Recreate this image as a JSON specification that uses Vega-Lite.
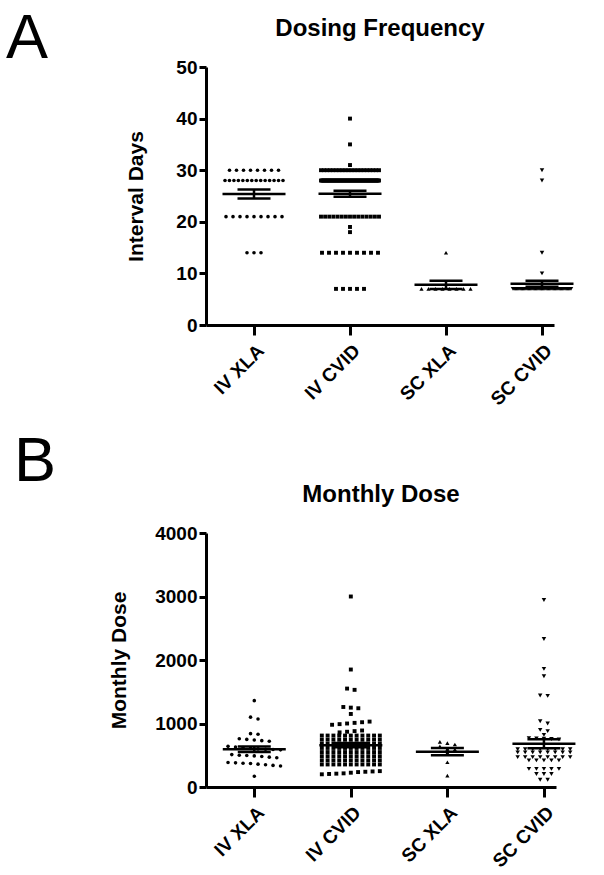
{
  "$schema": "https://vega.github.io/schema/vega-lite/v6.json",
  "background": "white",
  "padding": {"left": 6, "top": 7, "right": 5, "bottom": 5},
  "spacing": 21,
  "datasets": {
    "freq": [
      {"g":"IV XLA","v":30},{"g":"IV XLA","v":30},{"g":"IV XLA","v":30},{"g":"IV XLA","v":30},{"g":"IV XLA","v":30},{"g":"IV XLA","v":30},{"g":"IV XLA","v":30},{"g":"IV XLA","v":30},
      {"g":"IV XLA","v":28},{"g":"IV XLA","v":28},{"g":"IV XLA","v":28},{"g":"IV XLA","v":28},{"g":"IV XLA","v":28},{"g":"IV XLA","v":28},{"g":"IV XLA","v":28},{"g":"IV XLA","v":28},{"g":"IV XLA","v":28},{"g":"IV XLA","v":28},{"g":"IV XLA","v":28},{"g":"IV XLA","v":28},{"g":"IV XLA","v":28},{"g":"IV XLA","v":28},
      {"g":"IV XLA","v":21},{"g":"IV XLA","v":21},{"g":"IV XLA","v":21},{"g":"IV XLA","v":21},{"g":"IV XLA","v":21},{"g":"IV XLA","v":21},{"g":"IV XLA","v":21},{"g":"IV XLA","v":21},{"g":"IV XLA","v":21},
      {"g":"IV XLA","v":14},{"g":"IV XLA","v":14},{"g":"IV XLA","v":14},
      {"g":"IV CVID","v":40},{"g":"IV CVID","v":35},{"g":"IV CVID","v":31},
      {"g":"IV CVID","v":30},{"g":"IV CVID","v":30},{"g":"IV CVID","v":30},{"g":"IV CVID","v":30},{"g":"IV CVID","v":30},{"g":"IV CVID","v":30},{"g":"IV CVID","v":30},{"g":"IV CVID","v":30},{"g":"IV CVID","v":30},{"g":"IV CVID","v":30},
      {"g":"IV CVID","v":30},{"g":"IV CVID","v":30},{"g":"IV CVID","v":30},{"g":"IV CVID","v":30},{"g":"IV CVID","v":30},{"g":"IV CVID","v":30},{"g":"IV CVID","v":30},{"g":"IV CVID","v":30},{"g":"IV CVID","v":30},{"g":"IV CVID","v":30},
      {"g":"IV CVID","v":28},{"g":"IV CVID","v":28},{"g":"IV CVID","v":28},{"g":"IV CVID","v":28},{"g":"IV CVID","v":28},{"g":"IV CVID","v":28},{"g":"IV CVID","v":28},{"g":"IV CVID","v":28},{"g":"IV CVID","v":28},{"g":"IV CVID","v":28},
      {"g":"IV CVID","v":28},{"g":"IV CVID","v":28},{"g":"IV CVID","v":28},{"g":"IV CVID","v":28},{"g":"IV CVID","v":28},{"g":"IV CVID","v":28},{"g":"IV CVID","v":28},{"g":"IV CVID","v":28},{"g":"IV CVID","v":28},{"g":"IV CVID","v":28},
      {"g":"IV CVID","v":28},{"g":"IV CVID","v":28},{"g":"IV CVID","v":28},{"g":"IV CVID","v":28},{"g":"IV CVID","v":28},{"g":"IV CVID","v":28},{"g":"IV CVID","v":28},{"g":"IV CVID","v":28},{"g":"IV CVID","v":28},{"g":"IV CVID","v":28},
      {"g":"IV CVID","v":28},{"g":"IV CVID","v":28},{"g":"IV CVID","v":28},{"g":"IV CVID","v":28},{"g":"IV CVID","v":28},{"g":"IV CVID","v":28},{"g":"IV CVID","v":28},{"g":"IV CVID","v":28},{"g":"IV CVID","v":28},{"g":"IV CVID","v":28},
      {"g":"IV CVID","v":28},{"g":"IV CVID","v":28},{"g":"IV CVID","v":28},{"g":"IV CVID","v":28},{"g":"IV CVID","v":28},{"g":"IV CVID","v":28},{"g":"IV CVID","v":28},{"g":"IV CVID","v":28},{"g":"IV CVID","v":28},{"g":"IV CVID","v":28},
      {"g":"IV CVID","v":28},{"g":"IV CVID","v":28},{"g":"IV CVID","v":28},{"g":"IV CVID","v":28},{"g":"IV CVID","v":28},{"g":"IV CVID","v":28},{"g":"IV CVID","v":28},{"g":"IV CVID","v":28},{"g":"IV CVID","v":28},{"g":"IV CVID","v":28},
      {"g":"IV CVID","v":21},{"g":"IV CVID","v":21},{"g":"IV CVID","v":21},{"g":"IV CVID","v":21},{"g":"IV CVID","v":21},{"g":"IV CVID","v":21},{"g":"IV CVID","v":21},{"g":"IV CVID","v":21},{"g":"IV CVID","v":21},{"g":"IV CVID","v":21},
      {"g":"IV CVID","v":21},{"g":"IV CVID","v":21},{"g":"IV CVID","v":21},{"g":"IV CVID","v":21},{"g":"IV CVID","v":21},
      {"g":"IV CVID","v":19},{"g":"IV CVID","v":18},
      {"g":"IV CVID","v":14},{"g":"IV CVID","v":14},{"g":"IV CVID","v":14},{"g":"IV CVID","v":14},{"g":"IV CVID","v":14},{"g":"IV CVID","v":14},{"g":"IV CVID","v":14},{"g":"IV CVID","v":14},{"g":"IV CVID","v":14},
      {"g":"IV CVID","v":7},{"g":"IV CVID","v":7},{"g":"IV CVID","v":7},{"g":"IV CVID","v":7},{"g":"IV CVID","v":7},
      {"g":"SC XLA","v":14},
      {"g":"SC XLA","v":7},{"g":"SC XLA","v":7},{"g":"SC XLA","v":7},{"g":"SC XLA","v":7},{"g":"SC XLA","v":7},{"g":"SC XLA","v":7},{"g":"SC XLA","v":7},{"g":"SC XLA","v":7},
      {"g":"SC CVID","v":30},{"g":"SC CVID","v":28},{"g":"SC CVID","v":14},{"g":"SC CVID","v":10},
      {"g":"SC CVID","v":7},{"g":"SC CVID","v":7},{"g":"SC CVID","v":7},{"g":"SC CVID","v":7},{"g":"SC CVID","v":7},{"g":"SC CVID","v":7},{"g":"SC CVID","v":7},{"g":"SC CVID","v":7},{"g":"SC CVID","v":7},{"g":"SC CVID","v":7},
      {"g":"SC CVID","v":7},{"g":"SC CVID","v":7},{"g":"SC CVID","v":7},{"g":"SC CVID","v":7},{"g":"SC CVID","v":7},{"g":"SC CVID","v":7},{"g":"SC CVID","v":7},{"g":"SC CVID","v":7},{"g":"SC CVID","v":7},{"g":"SC CVID","v":7},
      {"g":"SC CVID","v":7},{"g":"SC CVID","v":7},{"g":"SC CVID","v":7},{"g":"SC CVID","v":7},{"g":"SC CVID","v":7},{"g":"SC CVID","v":7},{"g":"SC CVID","v":7},{"g":"SC CVID","v":7},{"g":"SC CVID","v":7},{"g":"SC CVID","v":7},
      {"g":"SC CVID","v":7},{"g":"SC CVID","v":7},{"g":"SC CVID","v":7},{"g":"SC CVID","v":7},{"g":"SC CVID","v":7},{"g":"SC CVID","v":7},{"g":"SC CVID","v":7},{"g":"SC CVID","v":7},{"g":"SC CVID","v":7},{"g":"SC CVID","v":7},
      {"g":"SC CVID","v":7},{"g":"SC CVID","v":7},{"g":"SC CVID","v":7},{"g":"SC CVID","v":7},{"g":"SC CVID","v":7},{"g":"SC CVID","v":7},{"g":"SC CVID","v":7},{"g":"SC CVID","v":7},{"g":"SC CVID","v":7},{"g":"SC CVID","v":7}
    ],
    "dose": [
      {"g":"IV XLA","v":1360},{"g":"IV XLA","v":1100},{"g":"IV XLA","v":1070},{"g":"IV XLA","v":840},{"g":"IV XLA","v":830},
      {"g":"IV XLA","v":760},{"g":"IV XLA","v":750},{"g":"IV XLA","v":740},{"g":"IV XLA","v":730},{"g":"IV XLA","v":720},
      {"g":"IV XLA","v":640},{"g":"IV XLA","v":630},{"g":"IV XLA","v":620},{"g":"IV XLA","v":610},{"g":"IV XLA","v":600},{"g":"IV XLA","v":595},{"g":"IV XLA","v":590},{"g":"IV XLA","v":585},
      {"g":"IV XLA","v":510},{"g":"IV XLA","v":500},{"g":"IV XLA","v":495},{"g":"IV XLA","v":490},{"g":"IV XLA","v":480},{"g":"IV XLA","v":470},{"g":"IV XLA","v":460},
      {"g":"IV XLA","v":385},{"g":"IV XLA","v":380},{"g":"IV XLA","v":375},{"g":"IV XLA","v":370},{"g":"IV XLA","v":360},{"g":"IV XLA","v":350},{"g":"IV XLA","v":340},{"g":"IV XLA","v":330},
      {"g":"IV XLA","v":170},
      {"g":"IV CVID","v":3000},{"g":"IV CVID","v":1850},{"g":"IV CVID","v":1550},{"g":"IV CVID","v":1530},{"g":"IV CVID","v":1260},{"g":"IV CVID","v":1250},{"g":"IV CVID","v":1240},{"g":"IV CVID","v":1150},
      {"g":"IV CVID","v":980},{"g":"IV CVID","v":990},{"g":"IV CVID","v":1000},{"g":"IV CVID","v":1010},{"g":"IV CVID","v":1020},{"g":"IV CVID","v":1030},
      {"g":"IV CVID","v":860},{"g":"IV CVID","v":870},{"g":"IV CVID","v":880},{"g":"IV CVID","v":890},
      {"g":"IV CVID","v":810},{"g":"IV CVID","v":810},{"g":"IV CVID","v":810},{"g":"IV CVID","v":810},{"g":"IV CVID","v":810},{"g":"IV CVID","v":810},{"g":"IV CVID","v":810},{"g":"IV CVID","v":810},{"g":"IV CVID","v":810},{"g":"IV CVID","v":810},{"g":"IV CVID","v":810},
      {"g":"IV CVID","v":745},{"g":"IV CVID","v":745},{"g":"IV CVID","v":745},{"g":"IV CVID","v":745},{"g":"IV CVID","v":745},{"g":"IV CVID","v":745},{"g":"IV CVID","v":745},{"g":"IV CVID","v":745},{"g":"IV CVID","v":745},{"g":"IV CVID","v":745},{"g":"IV CVID","v":745},
      {"g":"IV CVID","v":680},{"g":"IV CVID","v":680},{"g":"IV CVID","v":680},{"g":"IV CVID","v":680},{"g":"IV CVID","v":680},{"g":"IV CVID","v":680},{"g":"IV CVID","v":680},{"g":"IV CVID","v":680},{"g":"IV CVID","v":680},{"g":"IV CVID","v":680},{"g":"IV CVID","v":680},
      {"g":"IV CVID","v":615},{"g":"IV CVID","v":615},{"g":"IV CVID","v":615},{"g":"IV CVID","v":615},{"g":"IV CVID","v":615},{"g":"IV CVID","v":615},{"g":"IV CVID","v":615},{"g":"IV CVID","v":615},{"g":"IV CVID","v":615},{"g":"IV CVID","v":615},{"g":"IV CVID","v":615},
      {"g":"IV CVID","v":550},{"g":"IV CVID","v":550},{"g":"IV CVID","v":550},{"g":"IV CVID","v":550},{"g":"IV CVID","v":550},{"g":"IV CVID","v":550},{"g":"IV CVID","v":550},{"g":"IV CVID","v":550},{"g":"IV CVID","v":550},{"g":"IV CVID","v":550},{"g":"IV CVID","v":550},
      {"g":"IV CVID","v":485},{"g":"IV CVID","v":485},{"g":"IV CVID","v":485},{"g":"IV CVID","v":485},{"g":"IV CVID","v":485},{"g":"IV CVID","v":485},{"g":"IV CVID","v":485},{"g":"IV CVID","v":485},{"g":"IV CVID","v":485},{"g":"IV CVID","v":485},{"g":"IV CVID","v":485},
      {"g":"IV CVID","v":420},{"g":"IV CVID","v":420},{"g":"IV CVID","v":420},{"g":"IV CVID","v":420},{"g":"IV CVID","v":420},{"g":"IV CVID","v":420},{"g":"IV CVID","v":420},{"g":"IV CVID","v":420},{"g":"IV CVID","v":420},{"g":"IV CVID","v":420},{"g":"IV CVID","v":420},
      {"g":"IV CVID","v":355},{"g":"IV CVID","v":355},{"g":"IV CVID","v":355},{"g":"IV CVID","v":355},{"g":"IV CVID","v":355},{"g":"IV CVID","v":355},{"g":"IV CVID","v":355},{"g":"IV CVID","v":355},{"g":"IV CVID","v":355},{"g":"IV CVID","v":355},{"g":"IV CVID","v":355},
      {"g":"IV CVID","v":200},{"g":"IV CVID","v":205},{"g":"IV CVID","v":210},{"g":"IV CVID","v":215},{"g":"IV CVID","v":225},{"g":"IV CVID","v":235},{"g":"IV CVID","v":240},{"g":"IV CVID","v":245},{"g":"IV CVID","v":250},
      {"g":"SC XLA","v":710},{"g":"SC XLA","v":690},{"g":"SC XLA","v":670},{"g":"SC XLA","v":640},{"g":"SC XLA","v":600},{"g":"SC XLA","v":590},{"g":"SC XLA","v":540},{"g":"SC XLA","v":390},{"g":"SC XLA","v":180},
      {"g":"SC CVID","v":2945},{"g":"SC CVID","v":2330},{"g":"SC CVID","v":1860},{"g":"SC CVID","v":1745},{"g":"SC CVID","v":1440},{"g":"SC CVID","v":1435},{"g":"SC CVID","v":1035},{"g":"SC CVID","v":1000},
      {"g":"SC CVID","v":900},{"g":"SC CVID","v":880},{"g":"SC CVID","v":820},
      {"g":"SC CVID","v":770},{"g":"SC CVID","v":765},{"g":"SC CVID","v":760},{"g":"SC CVID","v":755},{"g":"SC CVID","v":750},
      {"g":"SC CVID","v":595},{"g":"SC CVID","v":595},{"g":"SC CVID","v":595},{"g":"SC CVID","v":595},{"g":"SC CVID","v":595},{"g":"SC CVID","v":595},{"g":"SC CVID","v":595},{"g":"SC CVID","v":595},
      {"g":"SC CVID","v":545},{"g":"SC CVID","v":545},{"g":"SC CVID","v":545},{"g":"SC CVID","v":545},{"g":"SC CVID","v":545},{"g":"SC CVID","v":545},{"g":"SC CVID","v":545},{"g":"SC CVID","v":545},
      {"g":"SC CVID","v":470},{"g":"SC CVID","v":470},{"g":"SC CVID","v":470},{"g":"SC CVID","v":470},{"g":"SC CVID","v":470},{"g":"SC CVID","v":470},{"g":"SC CVID","v":470},{"g":"SC CVID","v":470},
      {"g":"SC CVID","v":420},{"g":"SC CVID","v":420},{"g":"SC CVID","v":420},{"g":"SC CVID","v":420},{"g":"SC CVID","v":420},
      {"g":"SC CVID","v":285},{"g":"SC CVID","v":285},{"g":"SC CVID","v":285},{"g":"SC CVID","v":285},{"g":"SC CVID","v":285},
      {"g":"SC CVID","v":205},{"g":"SC CVID","v":205},{"g":"SC CVID","v":205},
      {"g":"SC CVID","v":115},{"g":"SC CVID","v":115}
    ]
  },
  "vconcat": [
    {
      "title": {"text": "A", "anchor": "start", "frame": "group", "fontSize": 63, "fontWeight": "normal", "font": "Liberation Sans", "color": "black", "baseline": "alphabetic", "dx": -200, "offset": -104},
      "vconcat": [
        {
          "width": 348,
          "height": 258,
          "title": {"text": "Dosing Frequency", "fontSize": 24, "fontWeight": "bold", "font": "Liberation Sans", "color": "black", "baseline": "alphabetic", "offset": -1.5},
          "data": {"name": "freq"},
          "transform": [
            {"joinaggregate": [{"op": "count", "as": "cnt"}], "groupby": ["g", "v"]},
            {"window": [{"op": "row_number", "as": "rk"}], "groupby": ["g", "v"]},
            {"calculate": "(datum.rk - (datum.cnt + 1) / 2) * min(7, 58 / max(datum.cnt - 1, 1))", "as": "xo"}
          ],
          "layer": [
            {
              "mark": {"type": "point", "filled": true, "color": "black", "opacity": 1, "strokeWidth": 0},
              "encoding": {
                "x": {"field": "g", "type": "nominal", "scale": {"type": "point", "domain": ["IV XLA", "IV CVID", "SC XLA", "SC CVID"], "padding": 0.3125, "align": 0.8}, "axis": {"title": null}},
                "xOffset": {"field": "xo", "type": "quantitative", "scale": {"domain": [-40, 40], "range": [-40, 40]}},
                "y": {"field": "v", "type": "quantitative", "title": "Interval Days", "scale": {"domain": [0, 50], "nice": false}, "axis": {"values": [0, 10, 20, 30, 40, 50], "title": "Interval Days"}},
                "shape": {"field": "g", "type": "nominal", "scale": {"domain": ["IV XLA", "IV CVID", "SC XLA", "SC CVID"], "range": ["circle", "square", "triangle-up", "triangle-down"]}, "legend": null},
                "size": {"field": "g", "type": "nominal", "scale": {"domain": ["IV XLA", "IV CVID", "SC XLA", "SC CVID"], "range": [13, 20, 22, 22]}, "legend": null}
              }
            },
            {
              "mark": {"type": "errorbar", "extent": "stderr", "color": "black", "opacity": 1, "ticks": {"size": 33, "thickness": 2.5, "color": "black", "opacity": 1}, "rule": {"strokeWidth": 2.5, "color": "black", "opacity": 1}},
              "encoding": {
                "x": {"field": "g", "type": "nominal", "title": null},
                "y": {"field": "v", "type": "quantitative", "title": "Interval Days"}
              }
            },
            {
              "mark": {"type": "tick", "color": "black", "size": 63, "thickness": 2.5, "opacity": 1},
              "encoding": {
                "x": {"field": "g", "type": "nominal", "title": null},
                "y": {"field": "v", "type": "quantitative", "aggregate": "mean", "title": "Interval Days"}
              }
            }
          ]
        }
      ]
    },
    {
      "title": {"text": "B", "anchor": "start", "frame": "group", "fontSize": 63, "fontWeight": "normal", "font": "Liberation Sans", "color": "black", "baseline": "alphabetic", "dx": -192, "offset": -61},
      "vconcat": [
        {
          "width": 350,
          "height": 254,
          "title": {"text": "Monthly Dose", "fontSize": 24, "fontWeight": "bold", "font": "Liberation Sans", "color": "black", "baseline": "alphabetic", "offset": -1.5},
          "data": {"name": "dose"},
          "transform": [
            {"calculate": "floor(datum.v / 65)", "as": "row"},
            {"joinaggregate": [{"op": "count", "as": "cnt"}], "groupby": ["g", "row"]},
            {"window": [{"op": "row_number", "as": "rk"}], "groupby": ["g", "row"]},
            {"calculate": "(datum.rk - (datum.cnt + 1) / 2) * min(7.5, 58 / max(datum.cnt - 1, 1))", "as": "xo"}
          ],
          "layer": [
            {
              "mark": {"type": "point", "filled": true, "color": "black", "opacity": 1, "strokeWidth": 0},
              "encoding": {
                "x": {"field": "g", "type": "nominal", "scale": {"type": "point", "domain": ["IV XLA", "IV CVID", "SC XLA", "SC CVID"], "padding": 0.3125, "align": 0.8}, "axis": {"title": null}},
                "xOffset": {"field": "xo", "type": "quantitative", "scale": {"domain": [-40, 40], "range": [-40, 40]}},
                "y": {"field": "v", "type": "quantitative", "title": "Monthly Dose", "scale": {"domain": [0, 4000], "nice": false}, "axis": {"values": [0, 1000, 2000, 3000, 4000], "format": "d", "title": "Monthly Dose", "titlePadding": 25}},
                "shape": {"field": "g", "type": "nominal", "scale": {"domain": ["IV XLA", "IV CVID", "SC XLA", "SC CVID"], "range": ["circle", "square", "triangle-up", "triangle-down"]}, "legend": null},
                "size": {"field": "g", "type": "nominal", "scale": {"domain": ["IV XLA", "IV CVID", "SC XLA", "SC CVID"], "range": [22, 30, 28, 28]}, "legend": null}
              }
            },
            {
              "mark": {"type": "errorbar", "extent": "stderr", "color": "black", "opacity": 1, "ticks": {"size": 33, "thickness": 2.5, "color": "black", "opacity": 1}, "rule": {"strokeWidth": 2.5, "color": "black", "opacity": 1}},
              "encoding": {
                "x": {"field": "g", "type": "nominal", "title": null},
                "y": {"field": "v", "type": "quantitative", "title": "Monthly Dose"}
              }
            },
            {
              "mark": {"type": "tick", "color": "black", "size": 63, "thickness": 2.5, "opacity": 1},
              "encoding": {
                "x": {"field": "g", "type": "nominal", "title": null},
                "y": {"field": "v", "type": "quantitative", "aggregate": "mean", "title": "Monthly Dose"}
              }
            }
          ]
        }
      ]
    }
  ],
  "config": {
    "view": {"stroke": null},
    "font": "Liberation Sans",
    "axis": {
      "grid": false,
      "domainColor": "black", "domainWidth": 3,
      "tickColor": "black", "tickWidth": 3,
      "labelColor": "black", "labelFont": "Liberation Sans", "labelFontWeight": "bold", "labelFontSize": 19,
      "titleColor": "black", "titleFont": "Liberation Sans", "titleFontWeight": "bold", "titleFontSize": 21
    },
    "axisY": {"tickSize": 7, "labelPadding": 2, "titlePadding": 29},
    "axisX": {"tickSize": 10, "labelAngle": -45, "labelPadding": 6}
  }
}
